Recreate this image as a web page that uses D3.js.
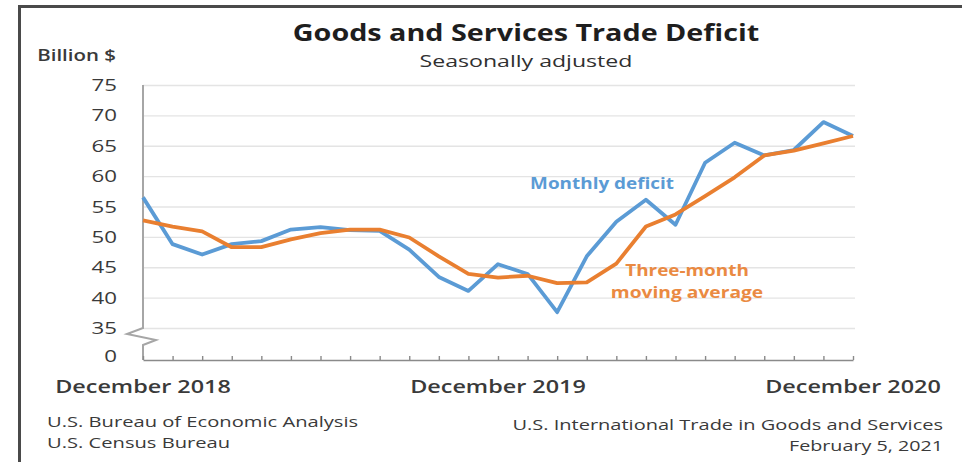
<!DOCTYPE html>
<html>
<head>
<meta charset="utf-8">
<script src="https://cdn.jsdelivr.net/npm/d3@7"></script>
<style>
  html, body { margin: 0; padding: 0; background: #fff; }
  svg { display: block; font-family: "Open Sans", "Noto Sans", sans-serif; }
</style>
</head>
<body>
<svg id="chart" width="962" height="462"></svg>
<script>
// Months from December 2018 through December 2020
const months = [
  "Dec 2018","Jan 2019","Feb 2019","Mar 2019","Apr 2019","May 2019","Jun 2019",
  "Jul 2019","Aug 2019","Sep 2019","Oct 2019","Nov 2019","Dec 2019",
  "Jan 2020","Feb 2020","Mar 2020","Apr 2020","May 2020","Jun 2020",
  "Jul 2020","Aug 2020","Sep 2020","Oct 2020","Nov 2020","Dec 2020"
];
// Monthly goods and services deficit, billion $
const monthlyDeficit = [
  56.5, 48.8, 47.1, 48.8, 49.3, 51.2, 51.6, 51.1, 51.0, 47.9, 43.4, 41.1, 45.5,
  43.9, 37.6, 46.8, 52.5, 56.1, 52.0, 62.2, 65.5, 63.4, 64.3, 68.9, 66.6
];
// Three-month moving average, billion $
const movingAverage = [
  52.7, 51.7, 50.9, 48.3, 48.3, 49.6, 50.6, 51.2, 51.2, 49.9, 46.8, 43.9, 43.3,
  43.6, 42.4, 42.5, 45.6, 51.7, 53.7, 56.7, 59.8, 63.4, 64.2, 65.4, 66.6
];
const yTicks = [35, 40, 45, 50, 55, 60, 65, 70, 75];
const xLabels = { "Dec 2018": "December 2018", "Dec 2019": "December 2019", "Dec 2020": "December 2020" };

const svg = d3.select("#chart");

// Text helper: wide lettering drawn by stretching glyphs horizontally
function label(parent, x, y, str, o) {
  return parent.append("text")
    .attr("transform", `translate(${x},${y}) scale(${o.sx || 1},1)`)
    .attr("text-anchor", o.anchor || "start")
    .attr("fill", o.fill || "#3a3a3a")
    .style("font-size", o.size + "px")
    .style("font-weight", o.weight || 400)
    .text(str);
}

// outer frame (top and left rules)
svg.append("path")
  .attr("d", "M19.5,462 L19.5,6.5 L962,6.5")
  .attr("fill", "none").attr("stroke", "#4a4a4a").attr("stroke-width", 3);

const plot = { left: 143, right: 853, top: 85, bottom: 328, axisY: 360 };

const x = d3.scalePoint().domain(months).range([plot.left, plot.right]);
const y = d3.scaleLinear().domain([35, 75]).range([plot.bottom, plot.top]);

// horizontal gridlines
const yAxis = svg.append("g")
  .attr("transform", `translate(${plot.left},0)`)
  .call(d3.axisLeft(y).tickValues(yTicks)
    .tickSize(-(plot.right - plot.left + 2)).tickFormat(""));
yAxis.select(".domain").remove();
yAxis.selectAll(".tick line").attr("stroke", "#e4e4e4").attr("stroke-width", 1.3);

// value labels
const tickSx = 1.35;
yTicks.forEach(v => label(svg, plot.left - 26, y(v) + 6, String(v),
  { anchor: "end", size: 16.5, sx: tickSx }));
label(svg, plot.left - 26, plot.axisY + 2, "0", { anchor: "end", size: 16.5, sx: tickSx });

// vertical axis with break mark
const yb = y(35);
svg.append("path")
  .attr("d", `M${plot.left},${plot.top} L${plot.left},${yb} L${plot.left - 16},${yb + 6}
              L${plot.left + 13},${yb + 12} L${plot.left},${yb + 17} L${plot.left},${plot.axisY}`)
  .attr("fill", "none").attr("stroke", "#a6a6a6").attr("stroke-width", 2);

// horizontal time axis with inward month ticks
const xAxis = svg.append("g")
  .attr("transform", `translate(0,${plot.axisY})`)
  .call(d3.axisBottom(x).tickSizeInner(-4).tickSizeOuter(0).tickFormat(""));
xAxis.select(".domain").attr("stroke", "#8a8a8a").attr("stroke-width", 1.6);
xAxis.selectAll(".tick line").attr("stroke", "#8a8a8a").attr("stroke-width", 1.4);
months.filter(m => xLabels[m]).forEach(m =>
  label(svg, x(m), plot.axisY + 33, xLabels[m],
    { anchor: "middle", size: 18, weight: 600, sx: 1.3 }));

// series lines
const line = d3.line().x((d, i) => x(months[i])).y(d => y(d));
svg.append("path").datum(monthlyDeficit)
  .attr("d", line).attr("fill", "none")
  .attr("stroke", "#5b9bd5").attr("stroke-width", 3.8).attr("stroke-linejoin", "round");
svg.append("path").datum(movingAverage)
  .attr("d", line).attr("fill", "none")
  .attr("stroke", "#e97f30").attr("stroke-width", 3.8).attr("stroke-linejoin", "round");

// series labels
label(svg, 602, 189, "Monthly deficit",
  { anchor: "middle", size: 15.5, weight: 700, fill: "#5b9bd5", sx: 1.22 });
label(svg, 687, 276, "Three-month",
  { anchor: "middle", size: 15.5, weight: 700, fill: "#ea8a42", sx: 1.22 });
label(svg, 687, 298, "moving average",
  { anchor: "middle", size: 15.5, weight: 700, fill: "#ea8a42", sx: 1.24 });

// titles
label(svg, 526, 41, "Goods and Services Trade Deficit",
  { anchor: "middle", size: 23, weight: 700, fill: "#1e1e1e", sx: 1.25 });
label(svg, 526, 67, "Seasonally adjusted",
  { anchor: "middle", size: 16.5, fill: "#303030", sx: 1.4 });
label(svg, 116, 61, "Billion $",
  { anchor: "end", size: 15.5, weight: 600, sx: 1.32 });

// sources and release
label(svg, 47, 427, "U.S. Bureau of Economic Analysis", { size: 14.5, sx: 1.39 });
label(svg, 47, 448, "U.S. Census Bureau", { size: 14.5, sx: 1.39 });
label(svg, 943, 430, "U.S. International Trade in Goods and Services",
  { anchor: "end", size: 14.5, sx: 1.38 });
label(svg, 943, 451, "February 5, 2021", { anchor: "end", size: 14.5, sx: 1.36 });
</script>
</body>
</html>
